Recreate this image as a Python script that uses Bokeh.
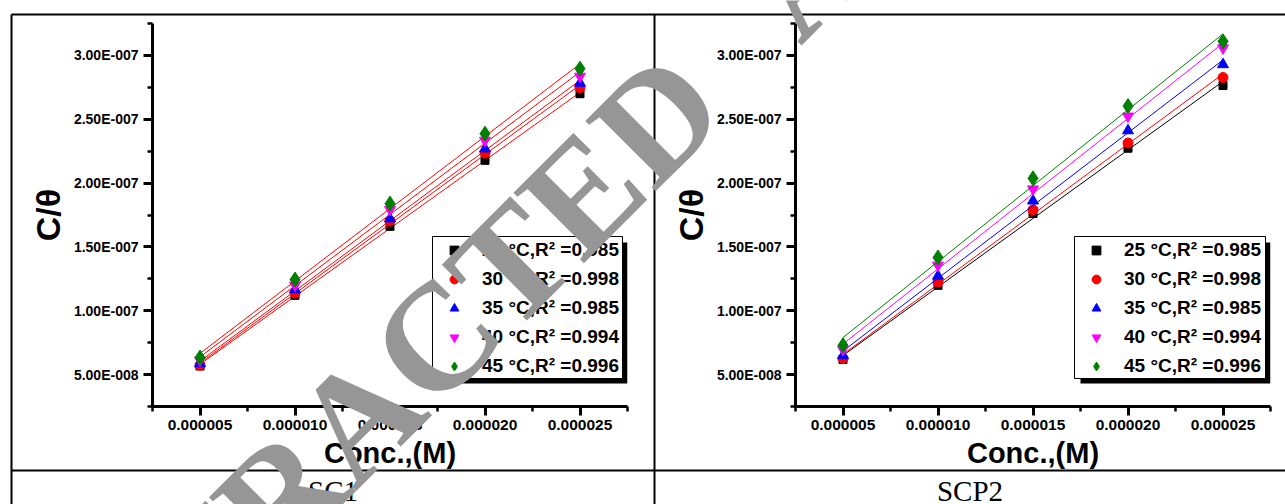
import numpy as np
from bokeh.plotting import figure
from bokeh.layouts import row, column
from bokeh.models import (Range1d, FixedTicker, CustomJSTickFormatter, Legend, LegendItem,
                          BoxAnnotation, Label, GridBox)
from bokeh.embed import file_html
from bokeh.resources import INLINE

# Concentration of inhibitor (M)
conc = [5e-6, 10e-6, 15e-6, 20e-6, 25e-6]

# Langmuir isotherm, C/theta for SC1 at each temperature
sc1_25 = [5.67e-8, 1.121e-7, 1.661e-7, 2.178e-7, 2.700e-7]
sc1_30 = [5.73e-8, 1.139e-7, 1.703e-7, 2.235e-7, 2.747e-7]
sc1_35 = [5.86e-8, 1.166e-7, 1.721e-7, 2.269e-7, 2.783e-7]
sc1_40 = [6.12e-8, 1.199e-7, 1.792e-7, 2.334e-7, 2.836e-7]
sc1_45 = [6.33e-8, 1.244e-7, 1.839e-7, 2.387e-7, 2.896e-7]

# C/theta for SCP2
scp2_25 = [6.18e-8, 1.199e-7, 1.762e-7, 2.273e-7, 2.764e-7]
scp2_30 = [6.26e-8, 1.225e-7, 1.790e-7, 2.314e-7, 2.827e-7]
scp2_35 = [6.49e-8, 1.272e-7, 1.861e-7, 2.411e-7, 2.929e-7]
scp2_40 = [6.96e-8, 1.356e-7, 1.953e-7, 2.524e-7, 3.058e-7]
scp2_45 = [7.30e-8, 1.417e-7, 2.037e-7, 2.603e-7, 3.110e-7]

legend_labels = ["25 °C,R² =0.985", "30 °C,R² =0.998", "35 °C,R² =0.985",
                 "40 °C,R² =0.994", "45 °C,R² =0.996"]
marker_colors = ["#000000", "#FF0000", "#0000FF", "#FF00FF", "#008000"]

x_ticks = [5e-6, 10e-6, 15e-6, 20e-6, 25e-6]
x_minor = [2.5e-6, 7.5e-6, 12.5e-6, 17.5e-6, 22.5e-6, 27.5e-6]
y_ticks = [5e-8, 1e-7, 1.5e-7, 2e-7, 2.5e-7, 3e-7]
y_minor = [2.5e-8, 7.5e-8, 1.25e-7, 1.75e-7, 2.25e-7, 2.75e-7, 3.25e-7]

cell_captions = ["SC1", "SCP2"]
stamp_words = ["RETRACTED", "ARTICLE"]

FONT = "Liberation Sans"
GRAY = "#969696"
PAGE_W, PAGE_H = 1285, 504

# marker name and size per temperature
MARKERS = [("square", 8), ("circle", 10), ("triangle", 11),
           ("inverted_triangle", 11), ("diamond", 15)]

Y_FMT = """
const p = tick.toExponential(2).split("e");
const e = parseInt(p[1]);
const s = e < 0 ? "-" : "+";
return p[0] + "E" + s + String(Math.abs(e)).padStart(3, "0");
"""


def build_panel(width, frame_px, border_left, border_right, series, fit_colors, box):
    p = figure(width=width, height=PAGE_H,
               x_range=Range1d(2.5e-6, 2.75e-5), y_range=Range1d(2.5e-8, 3.25e-7),
               output_backend="svg", toolbar_location=None,
               min_border_left=border_left, min_border_right=border_right,
               min_border_top=23, min_border_bottom=98,
               outline_line_color=None, background_fill_color="white",
               border_fill_color="white")
    # page-pixel coordinates for the legend frame
    p.extra_x_ranges = {"px": Range1d(*frame_px)}
    p.extra_y_ranges = {"px": Range1d(406, 23)}
    p.xgrid.visible = False
    p.ygrid.visible = False

    xa, ya = p.xaxis[0], p.yaxis[0]
    xa.ticker = FixedTicker(ticks=x_ticks, minor_ticks=x_minor)
    ya.ticker = FixedTicker(ticks=y_ticks, minor_ticks=y_minor)
    xa.formatter = CustomJSTickFormatter(code="return tick.toFixed(6);")
    ya.formatter = CustomJSTickFormatter(code=Y_FMT)
    xa.axis_label = "Conc.,(M)"
    ya.axis_label = "C/θ"
    for ax in (xa, ya):
        ax.axis_line_width = 3
        ax.axis_line_color = "black"
        ax.major_tick_line_width = 3
        ax.minor_tick_line_width = 2.5
        ax.major_tick_in = 0
        ax.minor_tick_in = 0
        ax.major_tick_out = 9
        ax.minor_tick_out = 5
        ax.major_label_text_font = FONT
        ax.major_label_text_font_style = "bold"
        ax.major_label_text_color = "black"
        ax.axis_label_text_font = FONT
        ax.axis_label_text_font_style = "bold"
        ax.axis_label_text_color = "black"
    xa.major_label_text_font_size = "15.5px"
    ya.major_label_text_font_size = "14px"
    xa.major_label_standoff = 4
    ya.major_label_standoff = 5
    xa.axis_label_text_font_size = "29px"
    ya.axis_label_text_font_size = "34px"
    xa.axis_label_standoff = 4
    ya.axis_label_standoff = 4

    items = []
    for vals, (mk, size), col, fcol, lab in zip(series, MARKERS, marker_colors,
                                                 fit_colors, legend_labels):
        coef = np.polyfit(conc, vals, 1)
        xs = [conc[0], conc[-1]]
        p.line(xs, list(np.polyval(coef, xs)), line_color=fcol, line_width=1)
        r = p.scatter(conc, vals, marker=mk, size=size,
                      fill_color=col, line_color=col)
        items.append(LegendItem(label=lab, renderers=[r]))

    left, right, top, bottom = box
    p.add_layout(BoxAnnotation(left=left + 6, right=right + 5, top=top + 6, bottom=bottom + 5,
                               x_range_name="px", y_range_name="px",
                               fill_color="black", fill_alpha=1, line_color=None))
    p.add_layout(BoxAnnotation(left=left, right=right, top=top, bottom=bottom,
                               x_range_name="px", y_range_name="px",
                               fill_color="white", fill_alpha=1,
                               line_color="black", line_alpha=1, line_width=1))
    legend = Legend(items=items, location=(left + 7 - frame_px[0], 406 - bottom + 1),
                    padding=0, margin=0, spacing=7, glyph_height=22, glyph_width=30,
                    label_height=22, label_standoff=13,
                    border_line_color=None, background_fill_alpha=0,
                    label_text_font=FONT, label_text_font_style="bold",
                    label_text_font_size="19px", label_text_color="black")
    p.add_layout(legend)
    return p


p1 = build_panel(654, (152, 627), 152, 27,
                 [sc1_25, sc1_30, sc1_35, sc1_40, sc1_45],
                 ["#FF0000"] * 5, (432, 622, 236, 378))
p2 = build_panel(631, (795, 1270), 141, 15,
                 [scp2_25, scp2_30, scp2_35, scp2_40, scp2_45],
                 marker_colors, (1074, 1265, 236, 378))

# transparent sheet over both panels: table rules, captions and the watermark
sheet = figure(width=PAGE_W, height=PAGE_H, x_range=Range1d(0, PAGE_W),
               y_range=Range1d(PAGE_H, 0), output_backend="svg", toolbar_location=None,
               x_axis_location=None, y_axis_location=None, min_border=0,
               outline_line_color=None, background_fill_color=None,
               border_fill_color=None)
sheet.grid.visible = False
sheet.segment(x0=[11, 11, 11, 654], y0=[14, 470, 14, 14],
              x1=[PAGE_W, PAGE_W, 11, 654], y1=[14, 470, PAGE_H, PAGE_H],
              line_width=2, line_color="black")
for caption, cx in zip(cell_captions, [332.5, 969.5]):
    sheet.add_layout(Label(x=cx, y=490, text=caption, text_align="center",
                           text_baseline="middle", text_font="Liberation Serif",
                           text_font_size="29px", text_color="black"))

# diagonal stamp, the two words laid along one 45 degree baseline
stamp_angle = np.deg2rad(45)
stamp_size = 152
word_starts = [0.0, 6.278 * stamp_size + 98]   # along-baseline offsets of each word
ox, oy = 20, 754
for word, d in zip(stamp_words, word_starts):
    sheet.add_layout(Label(x=ox + d * np.cos(stamp_angle), y=oy - d * np.sin(stamp_angle),
                           text=word, angle=45, angle_units="deg",
                           text_align="left", text_baseline="alphabetic",
                           text_font="Liberation Serif", text_font_style="bold",
                           text_font_size=f"{stamp_size}px", text_color=GRAY))

panels = row(p1, p2, spacing=0)
layer = column(sheet)
layout = GridBox(children=[(panels, 0, 0), (layer, 0, 0)], spacing=0)
open("out.html", "w").write(file_html(layout, INLINE, title="Langmuir adsorption isotherms"))
